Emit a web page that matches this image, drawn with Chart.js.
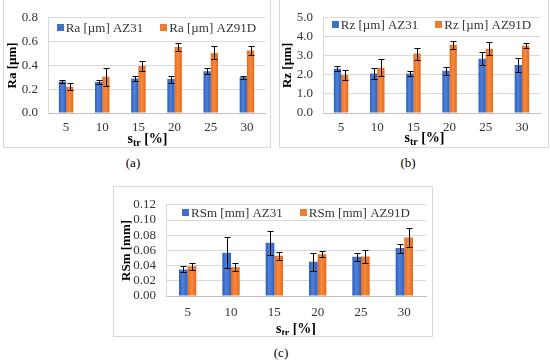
<!DOCTYPE html>
<html>
<head>
<meta charset="utf-8">
<script src="https://cdn.jsdelivr.net/npm/chart.js@4.4.0/dist/chart.umd.min.js"></script>
<style>
body { margin: 0; width: 550px; height: 363px; position: relative; background: #fff; overflow: hidden; font-family: 'Liberation Serif', serif; }
.frame { position: absolute; border: 1px solid #d9d9d9; box-sizing: border-box; }
canvas { position: absolute; }
.cap { position: absolute; font-size: 13px; color: #000; transform: translateX(-50%); }
</style>
</head>
<body>
<div class="frame" style="left:3px;top:-1px;width:268px;height:149px"></div>
<div class="frame" style="left:279px;top:-1px;width:270px;height:149px"></div>
<div class="frame" style="left:113px;top:186px;width:320px;height:151px"></div>
<canvas id="chartA" width="265" height="146" style="left:4px;top:0px"></canvas>
<canvas id="chartB" width="267" height="146" style="left:280px;top:0px"></canvas>
<canvas id="chartC" width="317" height="148" style="left:114px;top:187px"></canvas>
<div class="cap" style="left:133px;top:155px">(a)</div>
<div class="cap" style="left:408px;top:155px">(b)</div>
<div class="cap" style="left:281px;top:345px">(c)</div>
<script>
var categories = ['5', '10', '15', '20', '25', '30'];

var raAZ31 = [0.265, 0.26, 0.29, 0.285, 0.35, 0.30];
var raAZ31Err = [0.015, 0.015, 0.02, 0.03, 0.025, 0.015];
var raAZ91D = [0.22, 0.305, 0.395, 0.555, 0.505, 0.525];
var raAZ91DErr = [0.03, 0.075, 0.04, 0.03, 0.055, 0.035];

var rzAZ31 = [2.33, 2.07, 2.07, 2.22, 2.85, 2.52];
var rzAZ31Err = [0.15, 0.28, 0.13, 0.22, 0.33, 0.35];
var rzAZ91D = [2.0, 2.38, 3.12, 3.58, 3.37, 3.53];
var rzAZ91DErr = [0.28, 0.45, 0.32, 0.2, 0.35, 0.13];

var rsmAZ31 = [0.035, 0.057, 0.070, 0.045, 0.0515, 0.063];
var rsmAZ31Err = [0.004, 0.02, 0.016, 0.012, 0.005, 0.006];
var rsmAZ91D = [0.039, 0.038, 0.053, 0.055, 0.052, 0.077];
var rsmAZ91DErr = [0.005, 0.005, 0.005, 0.004, 0.008, 0.012];

var BLUE = ['#2f5fb8', '#4f82db', '#2f5fb8'];
var ORANGE = ['#e56a1c', '#f78a3e', '#e56a1c'];
var FONT = "'Liberation Serif', 'Times New Roman', serif";

// excel-like horizontal shading of each bar, placed through the x scale
function barFill(stops) {
    return function (c) {
        var chart = c.chart, xs = chart.scales.x;
        if (!xs || c.dataIndex === undefined) return stops[1];
        var n = chart.data.datasets.length;
        var catW = xs.width / chart.data.labels.length;
        var w = catW * 0.4 / n;
        var left = xs.getPixelForValue(c.dataIndex) - catW * 0.2 + w * c.datasetIndex;
        if (!isFinite(left) || !isFinite(w) || w <= 0) return stops[1];
        var g = chart.ctx.createLinearGradient(left, 0, left + w, 0);
        g.addColorStop(0, stops[0]);
        g.addColorStop(0.45, stops[1]);
        g.addColorStop(1, stops[2]);
        return g;
    };
}

// black error bars with small caps
var errorBars = {
    id: 'errorBars',
    afterDatasetsDraw: function (chart) {
        var ctx = chart.ctx, y = chart.scales.y;
        ctx.save();
        ctx.strokeStyle = '#000';
        ctx.lineWidth = 1;
        chart.data.datasets.forEach(function (ds, i) {
            chart.getDatasetMeta(i).data.forEach(function (bar, j) {
                var v = ds.data[j], e = ds.errors[j];
                var x = Math.round(bar.x) + 0.5;
                var t = Math.round(y.getPixelForValue(v + e)) + 0.5;
                var b = Math.round(y.getPixelForValue(v - e)) + 0.5;
                ctx.beginPath();
                ctx.moveTo(x, t); ctx.lineTo(x, b);
                ctx.moveTo(x - 3, t); ctx.lineTo(x + 3, t);
                ctx.moveTo(x - 3, b); ctx.lineTo(x + 3, b);
                ctx.stroke();
            });
        });
        ctx.restore();
    }
};

// legend drawn inside the plot area, near the top
var insideLegend = {
    id: 'insideLegend',
    afterDraw: function (chart, args, opts) {
        var ctx = chart.ctx, area = chart.chartArea;
        ctx.save();
        ctx.font = '13px ' + FONT;
        var box = 7, gap = 2, space = 17;
        var items = chart.data.datasets.map(function (ds) {
            return { text: ds.label, color: ds.legendColor, w: box + gap + ctx.measureText(ds.label).width };
        });
        var total = items.reduce(function (s, it) { return s + it.w; }, 0) + space * (items.length - 1);
        var x = (area.left + area.right) / 2 - total / 2 + (opts.dx || 0);
        var y = area.top + opts.dy;
        ctx.textBaseline = 'middle';
        items.forEach(function (it) {
            ctx.fillStyle = it.color;
            ctx.fillRect(Math.round(x), Math.round(y - box / 2), box, box);
            ctx.fillStyle = '#333';
            ctx.fillText(it.text, x + box + gap, y + 1);
            x += it.w + space;
        });
        ctx.restore();
    }
};

// x axis title "s_tr [%]" with subscript
var xTitle = {
    id: 'xTitle',
    afterDraw: function (chart, args, opts) {
        var ctx = chart.ctx, area = chart.chartArea;
        ctx.save();
        ctx.fillStyle = '#000';
        ctx.textBaseline = 'alphabetic';
        var big = 'bold 14px ' + FONT, small = 'bold 10px ' + FONT;
        ctx.font = big;
        var w1 = ctx.measureText('s').width, w3 = ctx.measureText(' [%]').width;
        ctx.font = small;
        var w2 = ctx.measureText('tr').width;
        var x = (area.left + area.right) / 2 - (w1 + w2 + w3) / 2 + (opts.dx || 0);
        var y = area.bottom + opts.dy;
        ctx.font = big; ctx.fillText('s', x, y);
        ctx.font = small; ctx.fillText('tr', x + w1, y + 3);
        ctx.font = big; ctx.fillText(' [%]', x + w1 + w2, y);
        ctx.restore();
    }
};

function makeChart(id, labels, s1, e1, s2, e2, yTitle, yMax, yStep, digits, lay) {
    return new Chart(document.getElementById(id).getContext('2d'), {
        type: 'bar',
        data: {
            labels: categories,
            datasets: [{
                label: labels[0],
                data: s1,
                errors: e1,
                legendColor: '#3f6fca',
                backgroundColor: barFill(BLUE),
                categoryPercentage: 0.4,
                barPercentage: 1.0
            }, {
                label: labels[1],
                data: s2,
                errors: e2,
                legendColor: '#f27a2c',
                backgroundColor: barFill(ORANGE),
                categoryPercentage: 0.4,
                barPercentage: 1.0
            }]
        },
        options: {
            responsive: false,
            animation: false,
            layout: { padding: { left: 0, right: lay.right, top: lay.top, bottom: 0 } },
            plugins: {
                legend: { display: false },
                tooltip: { enabled: false },
                insideLegend: { dy: lay.legendY, dx: 0 },
                xTitle: { dy: lay.titleY, dx: lay.titleX }
            },
            scales: {
                x: {
                    grid: { display: false, drawTicks: false },
                    border: { display: true, color: '#bfbfbf' },
                    ticks: { color: '#333', padding: lay.tickPad, font: { family: FONT, size: 13 } },
                    afterFit: function (s) { s.height = lay.xHeight; }
                },
                y: {
                    min: 0,
                    max: yMax,
                    grid: { color: '#d9d9d9', drawTicks: false },
                    border: { display: true, color: '#d9d9d9' },
                    ticks: {
                        stepSize: yStep,
                        autoSkip: false,
                        color: '#333',
                        padding: 10,
                        font: { family: FONT, size: 13 },
                        callback: function (v) { return Number(v).toFixed(digits); }
                    },
                    title: {
                        display: true,
                        text: yTitle,
                        color: '#000',
                        padding: { top: lay.yTitlePad, bottom: 0 },
                        font: { family: FONT, size: 13, weight: 'bold' }
                    },
                    afterFit: function (s) { s.width = lay.yWidth; }
                }
            }
        },
        plugins: [errorBars, insideLegend, xTitle]
    });
}

makeChart('chartA', ['Ra [µm] AZ31', 'Ra [µm] AZ91D'], raAZ31, raAZ31Err, raAZ91D, raAZ91DErr,
    'Ra [µm]', 0.8, 0.2, 1,
    { right: 4, top: 12, xHeight: 33, yWidth: 44, yTitlePad: 1, tickPad: 7, legendY: 10, titleY: 30, titleX: -9 });

makeChart('chartB', ['Rz [µm] AZ31', 'Rz [µm] AZ91D'], rzAZ31, rzAZ31Err, rzAZ91D, rzAZ91DErr,
    'Rz [µm]', 5, 1, 1,
    { right: 7, top: 12, xHeight: 33, yWidth: 43, yTitlePad: 0, tickPad: 7, legendY: 7, titleY: 29, titleX: -7 });

makeChart('chartC', ['RSm [mm] AZ31', 'RSm [mm] AZ91D'], rsmAZ31, rsmAZ31Err, rsmAZ91D, rsmAZ91DErr,
    'RSm [mm]', 0.12, 0.02, 2,
    { right: 5, top: 7, xHeight: 39, yWidth: 52, yTitlePad: 5, tickPad: 9, legendY: 8, titleY: 37, titleX: 0 });
</script>
</body>
</html>
